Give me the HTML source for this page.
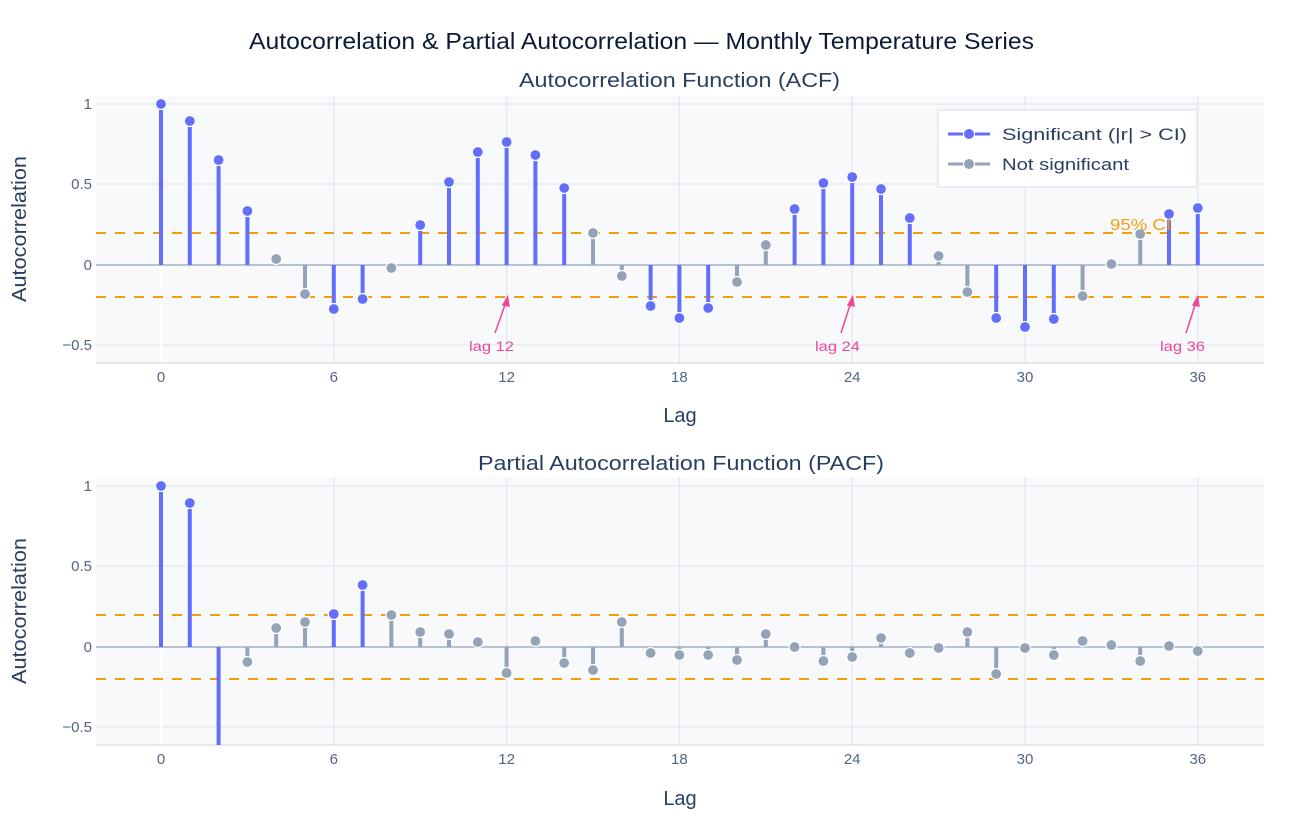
<!DOCTYPE html>
<html><head><meta charset="utf-8"><style>
body{margin:0;background:#fff}
text{font-family:"Liberation Sans",sans-serif}
</style></head><body>
<svg width="1312" height="832" xmlns="http://www.w3.org/2000/svg">
<rect width="1312" height="832" fill="#fff"/>
<text x="249" y="49" font-size="23" textLength="785" lengthAdjust="spacingAndGlyphs" fill="#0b1b33">Autocorrelation &amp; Partial Autocorrelation — Monthly Temperature Series</text>
<text x="519" y="87" font-size="20" textLength="321" lengthAdjust="spacingAndGlyphs" fill="#2a3f5f">Autocorrelation Function (ACF)</text>
<text x="478" y="470" font-size="20" textLength="406" lengthAdjust="spacingAndGlyphs" fill="#2a3f5f">Partial Autocorrelation Function (PACF)</text>

<!-- top plot -->
<rect x="96" y="96" width="1168" height="267" fill="#f8f9fb"/>
<g stroke="#e3e8f0" stroke-width="1.3">
<line x1="96" x2="1264" y1="104" y2="104"/><line x1="96" x2="1264" y1="184" y2="184"/><line x1="96" x2="1264" y1="345" y2="345"/>
<line x1="333.8" x2="333.8" y1="96" y2="363"/><line x1="506.6" x2="506.6" y1="96" y2="363"/><line x1="679.4" x2="679.4" y1="96" y2="363"/><line x1="852.2" x2="852.2" y1="96" y2="363"/><line x1="1025" x2="1025" y1="96" y2="363"/><line x1="1197.8" x2="1197.8" y1="96" y2="363"/>
</g>
<line x1="161" x2="161" y1="96" y2="363" stroke="#fff" stroke-width="2"/>
<line x1="96" x2="1264" y1="363" y2="363" stroke="#cfd6e2" stroke-width="1"/>
<line x1="96" x2="1264" y1="265" y2="265" stroke="#a3b0c2" stroke-width="1.5"/>
<g stroke="#f59e0b" stroke-width="2" stroke-dasharray="10,9"><line x1="96" x2="1264" y1="233" y2="233"/><line x1="96" x2="1264" y1="297" y2="297"/></g>
<g stroke-width="4">
<g stroke="#636efa">
<line x1="161" x2="161" y1="265" y2="104"/><line x1="189.8" x2="189.8" y1="265" y2="121"/><line x1="218.6" x2="218.6" y1="265" y2="160"/><line x1="247.4" x2="247.4" y1="265" y2="211"/>
<line x1="333.8" x2="333.8" y1="265" y2="309"/><line x1="362.6" x2="362.6" y1="265" y2="299"/>
<line x1="420.2" x2="420.2" y1="265" y2="225"/><line x1="449" x2="449" y1="265" y2="182"/><line x1="477.8" x2="477.8" y1="265" y2="152"/><line x1="506.6" x2="506.6" y1="265" y2="142"/><line x1="535.4" x2="535.4" y1="265" y2="155"/><line x1="564.2" x2="564.2" y1="265" y2="188"/>
<line x1="650.6" x2="650.6" y1="265" y2="306"/><line x1="679.4" x2="679.4" y1="265" y2="318"/><line x1="708.2" x2="708.2" y1="265" y2="308"/>
<line x1="794.6" x2="794.6" y1="265" y2="209"/><line x1="823.4" x2="823.4" y1="265" y2="183"/><line x1="852.2" x2="852.2" y1="265" y2="177"/><line x1="881" x2="881" y1="265" y2="189"/><line x1="909.8" x2="909.8" y1="265" y2="218"/>
<line x1="996.2" x2="996.2" y1="265" y2="318"/><line x1="1025" x2="1025" y1="265" y2="327"/><line x1="1053.8" x2="1053.8" y1="265" y2="319"/>
<line x1="1169" x2="1169" y1="265" y2="214"/><line x1="1197.8" x2="1197.8" y1="265" y2="208"/>
</g>
<g stroke="#94a3b8">
<line x1="276.2" x2="276.2" y1="265" y2="259"/><line x1="305" x2="305" y1="265" y2="294"/><line x1="391.4" x2="391.4" y1="265" y2="268"/>
<line x1="593" x2="593" y1="265" y2="233"/><line x1="621.8" x2="621.8" y1="265" y2="276"/><line x1="737" x2="737" y1="265" y2="282"/><line x1="765.8" x2="765.8" y1="265" y2="245"/>
<line x1="938.6" x2="938.6" y1="265" y2="256"/><line x1="967.4" x2="967.4" y1="265" y2="292"/><line x1="1082.6" x2="1082.6" y1="265" y2="296"/><line x1="1111.4" x2="1111.4" y1="265" y2="264"/><line x1="1140.2" x2="1140.2" y1="265" y2="234"/>
</g></g>
<g stroke="#fff" stroke-width="1.2">
<g fill="#636efa">
<circle cx="161" cy="104" r="5.5"/><circle cx="189.8" cy="121" r="5.5"/><circle cx="218.6" cy="160" r="5.5"/><circle cx="247.4" cy="211" r="5.5"/>
<circle cx="333.8" cy="309" r="5.5"/><circle cx="362.6" cy="299" r="5.5"/>
<circle cx="420.2" cy="225" r="5.5"/><circle cx="449" cy="182" r="5.5"/><circle cx="477.8" cy="152" r="5.5"/><circle cx="506.6" cy="142" r="5.5"/><circle cx="535.4" cy="155" r="5.5"/><circle cx="564.2" cy="188" r="5.5"/>
<circle cx="650.6" cy="306" r="5.5"/><circle cx="679.4" cy="318" r="5.5"/><circle cx="708.2" cy="308" r="5.5"/>
<circle cx="794.6" cy="209" r="5.5"/><circle cx="823.4" cy="183" r="5.5"/><circle cx="852.2" cy="177" r="5.5"/><circle cx="881" cy="189" r="5.5"/><circle cx="909.8" cy="218" r="5.5"/>
<circle cx="996.2" cy="318" r="5.5"/><circle cx="1025" cy="327" r="5.5"/><circle cx="1053.8" cy="319" r="5.5"/>
<circle cx="1169" cy="214" r="5.5"/><circle cx="1197.8" cy="208" r="5.5"/>
</g>
<g fill="#94a3b8">
<circle cx="276.2" cy="259" r="5.5"/><circle cx="305" cy="294" r="5.5"/><circle cx="391.4" cy="268" r="5.5"/>
<circle cx="593" cy="233" r="5.5"/><circle cx="621.8" cy="276" r="5.5"/><circle cx="737" cy="282" r="5.5"/><circle cx="765.8" cy="245" r="5.5"/>
<circle cx="938.6" cy="256" r="5.5"/><circle cx="967.4" cy="292" r="5.5"/><circle cx="1082.6" cy="296" r="5.5"/><circle cx="1111.4" cy="264" r="5.5"/><circle cx="1140.2" cy="234" r="5.5"/>
</g></g>
<text x="1110" y="230" font-size="16" textLength="61" lengthAdjust="spacingAndGlyphs" fill="#f59e0b">95% CI</text>
<g stroke="#ec4899" stroke-width="1.5" fill="#ec4899">
<line x1="495" y1="333" x2="506" y2="302"/><path d="M507.5,297 L503,305 L509,306 Z"/>
<line x1="841" y1="333" x2="851" y2="302"/><path d="M852.5,297 L848,305 L854,306 Z"/>
<line x1="1186" y1="333" x2="1196" y2="302"/><path d="M1197.5,297 L1193,305 L1199,306 Z"/>
</g>
<g font-size="14" fill="#ec4899">
<text x="469" y="351" textLength="45" lengthAdjust="spacingAndGlyphs">lag 12</text><text x="815" y="351" textLength="45" lengthAdjust="spacingAndGlyphs">lag 24</text><text x="1160" y="351" textLength="45" lengthAdjust="spacingAndGlyphs">lag 36</text></g>
<!-- legend -->
<rect x="938" y="110" width="259" height="77" fill="#fff" stroke="#e3e8f0" stroke-width="1.5"/>
<line x1="948" x2="990" y1="134" y2="134" stroke="#636efa" stroke-width="3"/><circle cx="969" cy="134" r="5.5" fill="#636efa" stroke="#fff"/>
<line x1="948" x2="990" y1="164" y2="164" stroke="#94a3b8" stroke-width="3"/><circle cx="969" cy="164" r="5.5" fill="#94a3b8" stroke="#fff"/>
<text x="1002" y="140" font-size="17" textLength="185" lengthAdjust="spacingAndGlyphs" fill="#2a3f5f">Significant (|r| &gt; CI)</text>
<text x="1002" y="170" font-size="17" textLength="127" lengthAdjust="spacingAndGlyphs" fill="#2a3f5f">Not significant</text>
<g font-size="15" fill="#506784" text-anchor="end">
<text x="92" y="109">1</text><text x="92" y="189">0.5</text><text x="92" y="270">0</text><text x="92" y="350">−0.5</text>
<text x="92" y="491">1</text><text x="92" y="571">0.5</text><text x="92" y="652">0</text><text x="92" y="732">−0.5</text>
</g>
<g font-size="15" fill="#506784" text-anchor="middle">
<text x="161" y="382">0</text><text x="333.8" y="382">6</text><text x="506.6" y="382">12</text><text x="679.4" y="382">18</text><text x="852.2" y="382">24</text><text x="1025" y="382">30</text><text x="1197.8" y="382">36</text>
<text x="161" y="764">0</text><text x="333.8" y="764">6</text><text x="506.6" y="764">12</text><text x="679.4" y="764">18</text><text x="852.2" y="764">24</text><text x="1025" y="764">30</text><text x="1197.8" y="764">36</text>
</g>
<g font-size="20" fill="#2a3f5f" text-anchor="middle">
<text x="680" y="422">Lag</text><text x="680" y="805">Lag</text>
<text transform="translate(26,229) rotate(-90)" textLength="146" lengthAdjust="spacingAndGlyphs">Autocorrelation</text>
<text transform="translate(26,611) rotate(-90)" textLength="146" lengthAdjust="spacingAndGlyphs">Autocorrelation</text>
</g>

<!-- bottom plot -->
<rect x="96" y="477" width="1168" height="268" fill="#f8f9fb"/>
<g stroke="#e3e8f0" stroke-width="1.3">
<line x1="96" x2="1264" y1="486" y2="486"/><line x1="96" x2="1264" y1="566" y2="566"/><line x1="96" x2="1264" y1="727" y2="727"/>
<line x1="333.8" x2="333.8" y1="477" y2="745"/><line x1="506.6" x2="506.6" y1="477" y2="745"/><line x1="679.4" x2="679.4" y1="477" y2="745"/><line x1="852.2" x2="852.2" y1="477" y2="745"/><line x1="1025" x2="1025" y1="477" y2="745"/><line x1="1197.8" x2="1197.8" y1="477" y2="745"/>
</g>
<line x1="161" x2="161" y1="477" y2="745" stroke="#fff" stroke-width="2"/>
<line x1="96" x2="1264" y1="745" y2="745" stroke="#cfd6e2" stroke-width="1"/>
<line x1="96" x2="1264" y1="647" y2="647" stroke="#a3b0c2" stroke-width="1.5"/>
<g stroke="#f59e0b" stroke-width="2" stroke-dasharray="10,9"><line x1="96" x2="1264" y1="615" y2="615"/><line x1="96" x2="1264" y1="679" y2="679"/></g>
<g stroke-width="4">
<g stroke="#636efa">
<line x1="161" x2="161" y1="647" y2="486"/><line x1="189.8" x2="189.8" y1="647" y2="503"/><line x1="218.6" x2="218.6" y1="647" y2="745"/>
<line x1="333.8" x2="333.8" y1="647" y2="614"/><line x1="362.6" x2="362.6" y1="647" y2="585"/>
</g>
<g stroke="#94a3b8">
<line x1="247.4" x2="247.4" y1="647" y2="662"/><line x1="276.2" x2="276.2" y1="647" y2="628"/><line x1="305" x2="305" y1="647" y2="622"/>
<line x1="391.4" x2="391.4" y1="647" y2="615"/><line x1="420.2" x2="420.2" y1="647" y2="632"/><line x1="449" x2="449" y1="647" y2="634"/><line x1="477.8" x2="477.8" y1="647" y2="642"/><line x1="506.6" x2="506.6" y1="647" y2="673"/><line x1="535.4" x2="535.4" y1="647" y2="641"/><line x1="564.2" x2="564.2" y1="647" y2="663"/><line x1="593" x2="593" y1="647" y2="670"/><line x1="621.8" x2="621.8" y1="647" y2="622"/><line x1="650.6" x2="650.6" y1="647" y2="653"/><line x1="679.4" x2="679.4" y1="647" y2="655"/><line x1="708.2" x2="708.2" y1="647" y2="655"/><line x1="737" x2="737" y1="647" y2="660"/><line x1="765.8" x2="765.8" y1="647" y2="634"/><line x1="823.4" x2="823.4" y1="647" y2="661"/><line x1="852.2" x2="852.2" y1="647" y2="657"/><line x1="881" x2="881" y1="647" y2="638"/><line x1="909.8" x2="909.8" y1="647" y2="653"/><line x1="967.4" x2="967.4" y1="647" y2="632"/><line x1="996.2" x2="996.2" y1="647" y2="674"/><line x1="1053.8" x2="1053.8" y1="647" y2="655"/><line x1="1082.6" x2="1082.6" y1="647" y2="641"/><line x1="1140.2" x2="1140.2" y1="647" y2="661"/><line x1="1197.8" x2="1197.8" y1="647" y2="651"/>
</g></g>
<g stroke="#fff" stroke-width="1.2">
<g fill="#636efa">
<circle cx="161" cy="486" r="5.5"/><circle cx="189.8" cy="503" r="5.5"/><circle cx="333.8" cy="614" r="5.5"/><circle cx="362.6" cy="585" r="5.5"/>
</g>
<g fill="#94a3b8">
<circle cx="247.4" cy="662" r="5.5"/><circle cx="276.2" cy="628" r="5.5"/><circle cx="305" cy="622" r="5.5"/><circle cx="391.4" cy="615" r="5.5"/><circle cx="420.2" cy="632" r="5.5"/><circle cx="449" cy="634" r="5.5"/><circle cx="477.8" cy="642" r="5.5"/><circle cx="506.6" cy="673" r="5.5"/><circle cx="535.4" cy="641" r="5.5"/><circle cx="564.2" cy="663" r="5.5"/><circle cx="593" cy="670" r="5.5"/><circle cx="621.8" cy="622" r="5.5"/><circle cx="650.6" cy="653" r="5.5"/><circle cx="679.4" cy="655" r="5.5"/><circle cx="708.2" cy="655" r="5.5"/><circle cx="737" cy="660" r="5.5"/><circle cx="765.8" cy="634" r="5.5"/><circle cx="794.6" cy="647" r="5.5"/><circle cx="823.4" cy="661" r="5.5"/><circle cx="852.2" cy="657" r="5.5"/><circle cx="881" cy="638" r="5.5"/><circle cx="909.8" cy="653" r="5.5"/><circle cx="938.6" cy="648" r="5.5"/><circle cx="967.4" cy="632" r="5.5"/><circle cx="996.2" cy="674" r="5.5"/><circle cx="1025" cy="648" r="5.5"/><circle cx="1053.8" cy="655" r="5.5"/><circle cx="1082.6" cy="641" r="5.5"/><circle cx="1111.4" cy="645" r="5.5"/><circle cx="1140.2" cy="661" r="5.5"/><circle cx="1169" cy="646" r="5.5"/><circle cx="1197.8" cy="651" r="5.5"/>
</g></g>
</svg>
</body></html>
